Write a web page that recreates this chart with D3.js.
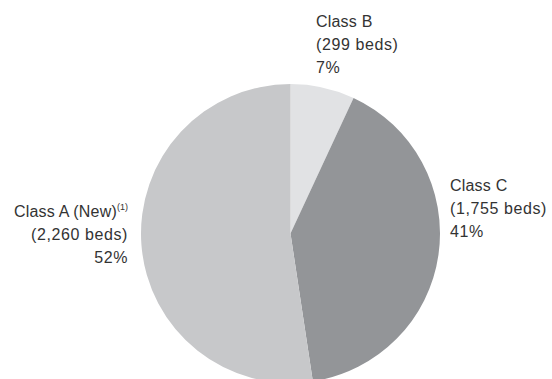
<!DOCTYPE html>
<html>
<head>
<meta charset="utf-8">
<script src="https://cdn.jsdelivr.net/npm/d3@7"></script>
<style>
  html, body { margin: 0; padding: 0; background: #fff; }
  svg { display: block; }
  text { font-family: "Liberation Sans", Arial, sans-serif; fill: #333; }
</style>
</head>
<body>
<svg id="chart" width="552" height="379"></svg>
<script>
// Bed counts by class, drawn clockwise from 12 o'clock
const categories = ["Class B", "Class C", "Class A (New)"];
const footnotes = ["", "", "(1)"];
const beds = [299, 1755, 2260];
const bedLabels = ["(299 beds)", "(1,755 beds)", "(2,260 beds)"];
const shareLabels = ["7%", "41%", "52%"];
const colors = ["#e1e2e4", "#939598", "#c7c8ca"];

const svg = d3.select("#chart");
const cx = 290.5, cy = 233.5, radius = 149.5;

const pie = d3.pie().sort(null).value(d => d.value);
const arc = d3.arc().innerRadius(0).outerRadius(radius);

const data = categories.map((c, i) => ({ name: c, value: beds[i], i }));

svg.append("g")
  .attr("transform", `translate(${cx},${cy})`)
  .selectAll("path")
  .data(pie(data))
  .join("path")
  .attr("d", arc)
  .attr("fill", d => colors[d.data.i]);

// Label blocks: three lines each
const labelSpecs = [
  { x: 316, y: 27, anchor: "start" },
  { x: 450, y: 191, anchor: "start" },
  { x: 128, y: 217, anchor: "end" }
];
const lineGap = 23;

labelSpecs.forEach((s, i) => {
  const g = svg.append("g");
  const t1 = g.append("text")
    .attr("x", s.x)
    .attr("y", s.y)
    .attr("text-anchor", s.anchor)
    .attr("font-size", 16)
    .attr("letter-spacing", 0.2);
  t1.append("tspan").text(categories[i]);
  if (footnotes[i]) {
    t1.append("tspan")
      .attr("font-size", 9)
      .attr("dy", -7)
      .attr("letter-spacing", 0)
      .text(footnotes[i]);
  }
  g.append("text")
    .attr("x", s.x)
    .attr("y", s.y + lineGap)
    .attr("text-anchor", s.anchor)
    .attr("font-size", 16)
    .attr("letter-spacing", 0.6)
    .text(bedLabels[i]);
  g.append("text")
    .attr("x", s.x)
    .attr("y", s.y + 2 * lineGap)
    .attr("text-anchor", s.anchor)
    .attr("font-size", 16)
    .attr("letter-spacing", 0.6)
    .text(shareLabels[i]);
});
</script>
</body>
</html>
